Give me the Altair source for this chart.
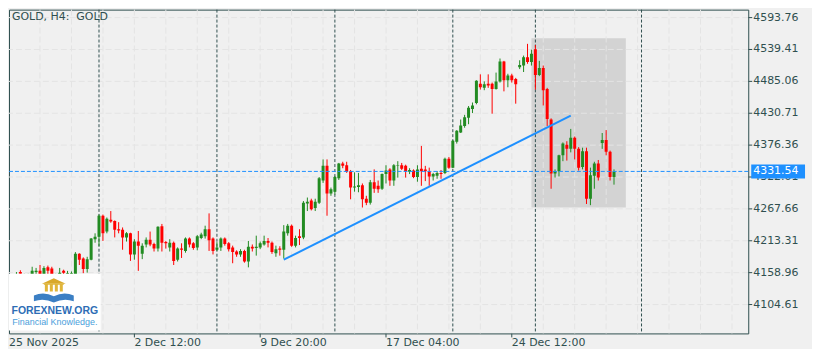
import altair as alt
import pandas as pd

# ---------------- data ----------------
bar_index = list(range(155))
opens = [4140, 4150, 4142, 4160, 4148, 4150, 4150, 4160, 4162, 4150,
         4168, 4166, 4150, 4152, 4162, 4155, 4155, 4156, 4191, 4183,
         4165, 4181, 4216, 4220, 4256, 4229, 4249, 4247, 4233, 4232,
         4219, 4226, 4190, 4212, 4191, 4207, 4215, 4208, 4200, 4238,
         4211, 4202, 4210, 4181, 4200, 4196, 4217, 4209, 4202, 4218,
         4221, 4233, 4217, 4198, 4202, 4217, 4209, 4202, 4195, 4190,
         4196, 4178, 4203, 4201, 4202, 4207, 4213, 4210, 4192, 4200,
         4198, 4226, 4239, 4205, 4221, 4219, 4277, 4282, 4269, 4278,
         4316, 4341, 4294, 4297, 4320, 4345, 4342, 4332, 4304, 4305,
         4308, 4285, 4278, 4313, 4307, 4302, 4327, 4335, 4316, 4341,
         4342, 4341, 4331, 4333, 4322, 4336, 4335, 4332, 4323, 4324,
         4329, 4329, 4353, 4338, 4382, 4398, 4409, 4423, 4438, 4448,
         4481, 4474, 4481, 4481, 4472, 4485, 4519, 4487, 4495, 4489,
         4509, 4512, 4526, 4518, 4540, 4496, 4508, 4472, 4420, 4328,
         4332, 4359, 4377, 4370, 4389, 4370, 4339, 4366, 4285, 4324,
         4345, 4380, 4385, 4365, 4322]
highs = [4158, 4155, 4160, 4163, 4157, 4157, 4169, 4167, 4172, 4170,
         4171, 4169, 4157, 4167, 4164, 4162, 4161, 4194, 4192, 4185,
         4186, 4218, 4226, 4258, 4258, 4253, 4264, 4248, 4245, 4236,
         4228, 4227, 4216, 4230, 4209, 4219, 4229, 4210, 4238, 4242,
         4213, 4216, 4212, 4202, 4209, 4219, 4219, 4211, 4223, 4227,
         4239, 4260, 4219, 4211, 4219, 4219, 4211, 4205, 4197, 4199,
         4198, 4213, 4207, 4222, 4212, 4222, 4218, 4212, 4205, 4204,
         4240, 4242, 4241, 4222, 4233, 4281, 4287, 4285, 4285, 4322,
         4352, 4352, 4304, 4324, 4346, 4348, 4348, 4334, 4330, 4329,
         4311, 4290, 4317, 4335, 4316, 4328, 4342, 4337, 4344, 4349,
         4346, 4343, 4337, 4335, 4342, 4375, 4341, 4338, 4329, 4332,
         4334, 4355, 4356, 4385, 4402, 4420, 4428, 4443, 4449, 4487,
         4497, 4485, 4497, 4483, 4500, 4524, 4520, 4498, 4498, 4491,
         4521, 4529, 4549, 4539, 4547, 4520, 4512, 4474, 4422, 4335,
         4360, 4381, 4383, 4404, 4391, 4373, 4372, 4372, 4338, 4348,
         4351, 4397, 4402, 4367, 4335]
lows = [4132, 4138, 4140, 4150, 4144, 4146, 4146, 4155, 4146, 4147,
        4156, 4148, 4146, 4148, 4155, 4150, 4150, 4150, 4172, 4158,
        4159, 4180, 4210, 4204, 4213, 4226, 4244, 4219, 4226, 4198,
        4212, 4179, 4181, 4162, 4182, 4202, 4204, 4195, 4195, 4195,
        4200, 4195, 4172, 4178, 4184, 4193, 4202, 4198, 4197, 4216,
        4217, 4196, 4190, 4196, 4196, 4205, 4195, 4175, 4186, 4186,
        4176, 4168, 4195, 4188, 4199, 4205, 4202, 4191, 4186, 4188,
        4183, 4222, 4203, 4202, 4206, 4216, 4264, 4265, 4264, 4276,
        4312, 4256, 4290, 4292, 4317, 4337, 4329, 4284, 4297, 4296,
        4270, 4274, 4275, 4295, 4295, 4300, 4311, 4307, 4307, 4321,
        4334, 4321, 4327, 4320, 4314, 4307, 4315, 4307, 4316, 4319,
        4319, 4327, 4336, 4337, 4379, 4397, 4406, 4412, 4431, 4446,
        4471, 4470, 4474, 4430, 4471, 4483, 4468, 4475, 4483, 4447,
        4506, 4501, 4515, 4512, 4471, 4494, 4444, 4409, 4302, 4321,
        4323, 4349, 4350, 4364, 4352, 4333, 4335, 4276, 4274, 4302,
        4316, 4370, 4359, 4316, 4309]
closes = [4152, 4142, 4156, 4157, 4155, 4156, 4162, 4162, 4150, 4167,
          4162, 4152, 4155, 4159, 4159, 4158, 4158, 4191, 4181, 4165,
          4182, 4217, 4220, 4256, 4226, 4251, 4246, 4232, 4231, 4219,
          4226, 4190, 4212, 4205, 4205, 4215, 4207, 4200, 4237, 4210,
          4209, 4210, 4179, 4200, 4198, 4217, 4207, 4201, 4221, 4224,
          4233, 4214, 4196, 4202, 4217, 4208, 4199, 4194, 4190, 4196,
          4178, 4203, 4200, 4203, 4209, 4213, 4210, 4194, 4199, 4198,
          4229, 4239, 4205, 4218, 4218, 4278, 4280, 4267, 4280, 4320,
          4341, 4294, 4301, 4322, 4345, 4341, 4331, 4304, 4306, 4308,
          4284, 4278, 4313, 4302, 4301, 4327, 4333, 4316, 4342, 4342,
          4336, 4332, 4334, 4322, 4335, 4332, 4332, 4323, 4327, 4329,
          4327, 4353, 4338, 4384, 4401, 4410, 4424, 4440, 4444, 4486,
          4475, 4480, 4478, 4472, 4485, 4519, 4487, 4495, 4487, 4480,
          4513, 4526, 4518, 4532, 4496, 4508, 4470, 4421, 4328, 4332,
          4359, 4379, 4370, 4389, 4370, 4338, 4366, 4285, 4325, 4345,
          4321, 4385, 4365, 4322, 4331.54]

price_ticks = [4104.61, 4158.96, 4213.31, 4267.66, 4322.01,
               4376.36, 4430.71, 4485.06, 4539.41, 4593.76]
time_label_bars = [0, 32, 64, 96, 128]
time_labels = ["25 Nov 2025", "2 Dec 12:00", "9 Dec 20:00", "17 Dec 04:00", "24 Dec 12:00"]
grid_bars = [8, 16, 24, 32, 40, 48, 56, 64, 72, 80, 88, 96, 104, 112,
             120, 128, 136, 144, 152, 160, 168, 176, 184]
separator_bars = [23, 53, 83, 113, 134, 161]
trend_bars = [70, 143]
trend_prices = [4181.0, 4426.8]
zone_bars = [133, 157]
zone_prices = [4269.9, 4558.6]
last_price = 4331.54
chart_title = "GOLD, H4:\u00a0 GOLD"

# ---------------- styling ----------------
TEXT = "#2f4f4f"
FONT = "DejaVu Sans"
BG = "#f0f0f0"
GRID = "#e4e4e4"
BLUE = "#1e90ff"
UP = "#228b22"
DOWN = "#ff0000"
W, H = 742, 325
X_MIN, X_MAX = 1.375, 186.875

x_scale = alt.Scale(domain=[X_MIN, X_MAX], nice=False, zero=False)
y_scale = alt.Scale(domain=[4055.36, 4607.34], nice=False, zero=False)
col_scale = alt.Scale(domain=["up", "down"], range=[UP, DOWN])

candles = pd.DataFrame({"i": bar_index, "open": opens, "high": highs,
                        "low": lows, "close": closes})
candles["dir"] = ["up" if c >= o else "down" for o, c in zip(opens, closes)]

one = pd.DataFrame({"a": [0]})


def X(field):
    return alt.X(field, scale=x_scale, axis=None)


def Y(field):
    return alt.Y(field, scale=y_scale, axis=None)


zone = alt.Chart(pd.DataFrame({"x0": [zone_bars[0]], "x1": [zone_bars[1]],
                               "y0": [zone_prices[0]], "y1": [zone_prices[1]]})
                 ).mark_rect(color="#d3d3d3", clip=True).encode(
    x=X("x0:Q"), x2="x1:Q", y=Y("y0:Q"), y2="y1:Q")

hgrid = alt.Chart(pd.DataFrame({"p": price_ticks})).mark_rule(
    color=GRID, strokeDash=[6, 3], strokeWidth=1).encode(y=Y("p:Q"))
vgrid = alt.Chart(pd.DataFrame({"b": grid_bars})).mark_rule(
    color=GRID, strokeDash=[6, 3], strokeWidth=1).encode(x=X("b:Q"))

seps = alt.Chart(pd.DataFrame({"b": separator_bars})).mark_rule(
    color=TEXT, strokeDash=[3, 2], strokeWidth=1).encode(x=X("b:Q"))

# only the candles that fall inside the visible window are drawn
visible = f"datum.i >= {X_MIN + 0.5}"
wicks = alt.Chart(candles).transform_filter(visible).mark_rule(strokeWidth=1, clip=True).encode(
    x=X("i:Q"), y=Y("low:Q"), y2="high:Q",
    color=alt.Color("dir:N", scale=col_scale, legend=None))
bodies = alt.Chart(candles).transform_filter(visible).mark_bar(size=3, clip=True).encode(
    x=X("i:Q"), y=Y("open:Q"), y2="close:Q",
    color=alt.Color("dir:N", scale=col_scale, legend=None))

trend = alt.Chart(pd.DataFrame({"b": trend_bars, "p": trend_prices})).mark_line(
    color=BLUE, strokeWidth=2).encode(x=X("b:Q"), y=Y("p:Q"))

lp = pd.DataFrame({"p": [last_price]})
last_line = alt.Chart(lp).mark_rule(color=BLUE, strokeDash=[4, 2], strokeWidth=1).encode(
    y=Y("p:Q"))

# right price axis (ticks + labels) drawn through the y scale
pt = pd.DataFrame({"p": price_ticks})
y_ticks = alt.Chart(pt).mark_rule(color=TEXT, strokeWidth=1).encode(
    y=Y("p:Q"), x=alt.value(W), x2=alt.value(W + 4))
y_labels = alt.Chart(pt).mark_text(align="left", baseline="middle", color=TEXT,
                                   font=FONT, fontSize=11).encode(
    y=Y("p:Q"), x=alt.value(W + 5), text=alt.Text("p:Q", format=".2f"))

last_box = alt.Chart(lp).mark_rule(color=BLUE, strokeWidth=14, strokeCap="butt").encode(
    y=Y("p:Q"), x=alt.value(W + 3), x2=alt.value(W + 57))
last_text = alt.Chart(lp).mark_text(align="left", baseline="middle", color="white",
                                    font=FONT, fontSize=11).encode(
    y=Y("p:Q"), x=alt.value(W + 5), text=alt.Text("p:Q", format=".2f"))

# bottom time axis (ticks + labels) drawn through the x scale
tl = pd.DataFrame({"b": time_label_bars[1:], "t": time_labels[1:]})
x_ticks = alt.Chart(tl).mark_rule(color=TEXT, strokeWidth=1).encode(
    x=X("b:Q"), y=alt.value(H), y2=alt.value(H + 4))
x_labels = alt.Chart(tl).mark_text(align="left", baseline="top", color=TEXT,
                                   font=FONT, fontSize=11).encode(
    x=X("b:Q"), y=alt.value(H + 4), text="t:N")
first_label = alt.Chart(one).mark_text(text=time_labels[0], font=FONT, fontSize=11,
                                       color=TEXT, align="left", baseline="top").encode(
    x=alt.value(0), y=alt.value(H + 4))

# logo
logo_box = alt.Chart(one).mark_rect(color="white").encode(
    x=alt.value(0), x2=alt.value(92), y=alt.value(265), y2=alt.value(322))
roof = alt.Chart(one).mark_point(shape="M-1,0.22L0,-0.24L1,0.22Z", filled=True, size=576,
                                 color="#d9a92b", opacity=1, strokeWidth=0).encode(
    x=alt.value(45), y=alt.value(272.5))
pillars = alt.Chart(one).mark_point(
    shape="M-1,-0.4H1V-0.28H-1Z M-0.9,-0.28H-0.6V0.4H-0.9Z M-0.4,-0.28H-0.1V0.4H-0.4Z "
          "M0.1,-0.28H0.4V0.4H0.1Z M0.6,-0.28H0.9V0.4H0.6Z",
    filled=True, size=400, color="#e0b53a", opacity=1, strokeWidth=0).encode(
    x=alt.value(45), y=alt.value(279))
book = alt.Chart(one).mark_point(
    shape="M-1,-0.1Q-0.5,-0.32 0,-0.06Q0.5,-0.32 1,-0.1L1,0.18Q0.5,0 0,0.25Q-0.5,0 -1,0.18Z",
    filled=True, size=1600, color="#3b7fc4", opacity=1, strokeWidth=0).encode(
    x=alt.value(45), y=alt.value(289))
logo_t1 = alt.Chart(one).mark_text(text="FOREXNEW.ORG", font="Liberation Sans",
                                   fontWeight="bold", fontSize=10.5, color="#2d6db5",
                                   align="center", baseline="middle").encode(
    x=alt.value(46), y=alt.value(302.5))
logo_t2 = alt.Chart(one).mark_text(text="Financial Knowledge.", font="Liberation Sans",
                                   fontSize=9, color="#4a9edb",
                                   align="center", baseline="middle").encode(
    x=alt.value(46), y=alt.value(314))

title = alt.Chart(one).mark_text(text=chart_title, font=FONT, fontSize=11, color=TEXT,
                                 align="left", baseline="middle").encode(
    x=alt.value(3), y=alt.value(7))

chart = alt.layer(
    zone, hgrid, vgrid, seps, wicks, bodies, trend, last_line,
    y_ticks, y_labels, last_box, last_text, x_ticks, x_labels, first_label,
    logo_box, roof, pillars, book, logo_t1, logo_t2, title
).properties(
    width=W, height=H,
    padding={"left": 0, "top": 0, "right": 0, "bottom": 0}
).configure(background=BG).configure_view(stroke=TEXT, strokeWidth=1, fill=BG)

chart.save("out.html", embed_options={"renderer": "svg", "actions": False})
